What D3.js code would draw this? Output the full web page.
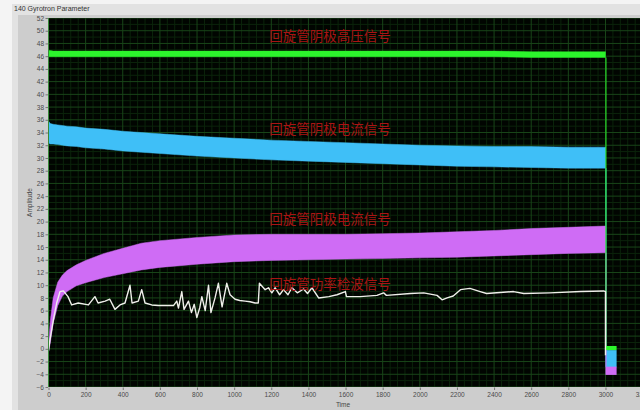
<!DOCTYPE html>
<html>
<head>
<meta charset="utf-8">
<script src="https://cdn.jsdelivr.net/npm/d3@7"></script>
<style>
  body { margin: 0; background: #f4f4f4; }
  svg { display: block; }
  .tick text { font-family: "Liberation Sans", Arial, sans-serif; font-size: 6.5px; fill: #4a4a4a; }
  .tick line { stroke: #777; }
</style>
</head>
<body>
<div id="chart"></div>
<script>
// time samples used for the noisy band signals (envelope lo / hi)
const bandTimes = [0, 10, 25, 50, 75, 100, 150, 200, 300, 400, 500, 600, 800, 1000, 1200, 1400, 1600, 1800, 2000, 2200, 2400, 2600, 2800, 3000];
const greenLo   = [45.9, 45.9, 45.9, 45.9, 45.9, 45.9, 45.9, 45.9, 45.9, 45.9, 45.9, 45.9, 45.9, 45.9, 45.9, 45.9, 45.9, 45.9, 45.9, 45.9, 45.9, 45.8, 45.8, 45.8];
const greenHi   = [46.9, 46.9, 46.8, 46.8, 46.8, 46.8, 46.8, 46.8, 46.8, 46.8, 46.8, 46.8, 46.8, 46.8, 46.8, 46.8, 46.8, 46.8, 46.8, 46.8, 46.8, 46.7, 46.7, 46.7];
const cyanLo    = [32.3, 32.2, 32.2, 32.1, 32.0, 31.9, 31.8, 31.6, 31.4, 31.1, 30.9, 30.7, 30.3, 30.0, 29.7, 29.5, 29.3, 29.1, 28.9, 28.7, 28.6, 28.5, 28.4, 28.4];
const cyanHi    = [35.8, 35.4, 35.3, 35.2, 35.1, 35.0, 34.9, 34.7, 34.5, 34.2, 34.0, 33.8, 33.4, 33.1, 32.8, 32.6, 32.4, 32.2, 32.0, 31.9, 31.8, 31.8, 31.7, 31.7];
const violetLo  = [-0.5, 1.0, 4.0, 6.8, 8.3, 9.0, 9.9, 10.4, 11.2, 11.8, 12.4, 12.8, 13.3, 13.7, 13.9, 14.0, 14.1, 14.2, 14.3, 14.4, 14.6, 14.8, 15.0, 15.1];
const violetHi  = [0.5, 4.5, 8.0, 10.5, 11.6, 12.3, 13.2, 13.9, 15.0, 15.8, 16.6, 17.0, 17.5, 17.9, 18.0, 18.0, 18.0, 18.1, 18.2, 18.4, 18.6, 18.9, 19.1, 19.3];

// short tail after the supply is switched off
const tailTimes = [3000, 3060];
const greenTail  = [-0.2, 0.45];
const cyanTail   = [-2.9, -0.2];
const violetTail = [-4.1, -2.8];

// power detector signal (white)
const whiteTimes = [0, 8, 26, 44, 62, 80, 105, 125, 160, 215, 250, 267, 305, 330, 358, 385, 412, 439, 450, 484, 502, 520, 556, 592, 673, 691, 700, 718, 730, 754, 770, 785, 799, 815, 826, 844, 862, 875, 897, 915, 935, 960, 978, 1005, 1030, 1059, 1086, 1113, 1130, 1136, 1167, 1185, 1203, 1221, 1245, 1266, 1290, 1311, 1340, 1374, 1395, 1419, 1455, 1510, 1554, 1599, 1605, 1679, 1769, 1805, 1820, 1949, 2021, 2093, 2120, 2147, 2180, 2219, 2270, 2325, 2360, 2505, 2560, 2700, 2866, 2990, 3000, 3000];
const whiteVals  = [-0.3, 1.4, 4.5, 7.2, 9.0, 9.1, 8.2, 6.9, 7.2, 6.9, 8.2, 7.2, 7.5, 7.8, 6.2, 6.9, 7.2, 10.0, 7.2, 7.5, 9.3, 7.2, 6.9, 6.8, 6.8, 7.5, 6.4, 9.0, 6.2, 7.5, 5.7, 7.0, 4.9, 6.5, 8.2, 6.0, 10.0, 5.7, 8.0, 10.3, 6.6, 10.3, 8.5, 7.8, 7.6, 7.5, 7.4, 7.2, 7.2, 10.3, 9.3, 9.6, 8.8, 9.6, 8.5, 9.3, 8.5, 9.6, 8.8, 9.4, 8.7, 9.6, 8.0, 8.2, 8.5, 9.0, 8.2, 8.2, 8.4, 8.8, 8.4, 8.7, 8.8, 8.4, 7.7, 8.0, 8.3, 9.3, 9.5, 9.0, 8.7, 9.0, 8.7, 8.8, 9.0, 9.1, 9.0, -1.0];

const xTicks = d3.range(0, 3201, 200);
const yTicks = d3.range(-6, 53, 2);

const labels = ["回旋管阴极高压信号", "回旋管阴极电流信号", "回旋管阳极电流信号", "回旋管功率检波信号"];
const labelValues = [49.3, 34.7, 20.6, 10.3];

const W = 640, H = 410;
const plot = {left: 48.5, top: 18, right: 642.6, bottom: 387};

const svg = d3.select("#chart").append("svg")
    .attr("width", W)
    .attr("height", H);

// panel background
svg.append("rect").attr("x", 12).attr("y", 4).attr("width", W - 12).attr("height", H - 4).attr("fill", "#e2e2e2");
svg.append("rect").attr("x", 18).attr("y", 15).attr("width", W - 18).attr("height", H - 15).attr("fill", "#cdcdcd");
svg.append("text")
    .attr("x", 14).attr("y", 11)
    .style("font-family", "Liberation Sans, Arial, sans-serif")
    .style("font-size", "7px")
    .style("fill", "#333")
    .text("140 Gyrotron Parameter");

const x = d3.scaleLinear().domain([0, 3200]).range([plot.left, plot.right]);
const y = d3.scaleLinear().domain([-6, 52]).range([plot.bottom, plot.top]);

svg.append("clipPath").attr("id", "clip")
    .append("rect")
    .attr("x", plot.left).attr("y", plot.top)
    .attr("width", plot.right - plot.left).attr("height", plot.bottom - plot.top);

svg.append("rect")
    .attr("x", plot.left).attr("y", plot.top)
    .attr("width", plot.right - plot.left).attr("height", plot.bottom - plot.top)
    .attr("fill", "#010501");

const g = svg.append("g").attr("clip-path", "url(#clip)");

// minor grid
const xMinor = d3.range(0, 3201, 40).filter(d => d % 200 !== 0);
const yMinor = d3.range(-6, 53, 1).filter(d => d % 2 !== 0);
g.append("g").selectAll("line").data(xMinor).enter().append("line")
    .attr("x1", d => x(d)).attr("x2", d => x(d))
    .attr("y1", plot.top).attr("y2", plot.bottom)
    .attr("stroke", "#0b240b").attr("stroke-width", 1);
g.append("g").selectAll("line").data(yMinor).enter().append("line")
    .attr("y1", d => y(d)).attr("y2", d => y(d))
    .attr("x1", plot.left).attr("x2", plot.right)
    .attr("stroke", "#0b240b").attr("stroke-width", 1);
// major grid
g.append("g").selectAll("line").data(xTicks).enter().append("line")
    .attr("x1", d => x(d)).attr("x2", d => x(d))
    .attr("y1", plot.top).attr("y2", plot.bottom)
    .attr("stroke", "#194619").attr("stroke-width", 1);
g.append("g").selectAll("line").data(yTicks).enter().append("line")
    .attr("y1", d => y(d)).attr("y2", d => y(d))
    .attr("x1", plot.left).attr("x2", plot.right)
    .attr("stroke", "#194619").attr("stroke-width", 1);

const bandArea = d3.area()
    .x(d => x(d.t))
    .y0(d => y(d.lo))
    .y1(d => y(d.hi));

function band(times, lo, hi, tailVals, color) {
    const main = times.map((t, i) => ({t: t, lo: lo[i], hi: hi[i]}));
    const tail = tailTimes.map(t => ({t: t, lo: tailVals[0], hi: tailVals[1]}));
    g.append("path").datum(main)
        .attr("d", bandArea)
        .attr("fill", color)
        .attr("stroke", color)
        .attr("stroke-width", 0.8)
        .attr("stroke-opacity", 0.6);
    g.append("path").datum(tail)
        .attr("d", bandArea)
        .attr("fill", color);
    // drop at switch-off
    const last = main[main.length - 1];
    g.append("line")
        .attr("x1", x(last.t) + 0.5).attr("x2", x(last.t) + 0.5)
        .attr("y1", y(last.lo)).attr("y2", y(tailVals[1]))
        .attr("stroke", color).attr("stroke-width", 1);
}

band(bandTimes, cyanLo, cyanHi, cyanTail, "#3fbff7");
band(bandTimes, violetLo, violetHi, violetTail, "#cf6cf5");
band(bandTimes, greenLo, greenHi, greenTail, "#2cf52c");

const whiteLine = d3.line()
    .x(d => x(d[0]))
    .y(d => y(d[1]));
g.append("path")
    .datum(whiteTimes.map((t, i) => [t, whiteVals[i]]))
    .attr("d", whiteLine)
    .attr("fill", "none")
    .attr("stroke", "#efefea")
    .attr("stroke-width", 1.4)
    .attr("stroke-linejoin", "round");

// plot left border
svg.append("line")
    .attr("x1", plot.left).attr("x2", plot.left)
    .attr("y1", plot.top).attr("y2", plot.bottom)
    .attr("stroke", "#3a8a3a").attr("stroke-width", 1);

// red labels
g.append("g").selectAll("text").data(labels).enter().append("text")
    .attr("x", x(1516))
    .attr("y", (d, i) => y(labelValues[i]))
    .attr("text-anchor", "middle")
    .attr("dominant-baseline", "central")
    .style("font-family", "Noto Sans CJK SC, sans-serif")
    .style("font-size", "13.5px")
    .style("fill", "#a81414")
    .text(d => d);

// axes
const yAxis = svg.append("g")
    .attr("transform", "translate(" + (plot.left - 0.5) + ",0)")
    .call(d3.axisLeft(y).tickValues(yTicks).tickSize(2.5).tickPadding(1.5).tickFormat(d3.format("d")));
yAxis.select(".domain").remove();

const xAxis = svg.append("g")
    .attr("transform", "translate(0," + (plot.bottom + 0.5) + ")")
    .call(d3.axisBottom(x).tickValues(xTicks).tickSize(2.5).tickPadding(2).tickFormat(d3.format("d")));
xAxis.select(".domain").remove();

svg.append("text")
    .attr("x", 343).attr("y", 407)
    .attr("text-anchor", "middle")
    .style("font-family", "Liberation Sans, Arial, sans-serif")
    .style("font-size", "6.5px")
    .style("fill", "#444")
    .text("Time");

svg.append("text")
    .attr("transform", "translate(32," + y(23) + ") rotate(-90)")
    .attr("text-anchor", "middle")
    .style("font-family", "Liberation Sans, Arial, sans-serif")
    .style("font-size", "6.5px")
    .style("fill", "#444")
    .text("Amplitude");
</script>
</body>
</html>
